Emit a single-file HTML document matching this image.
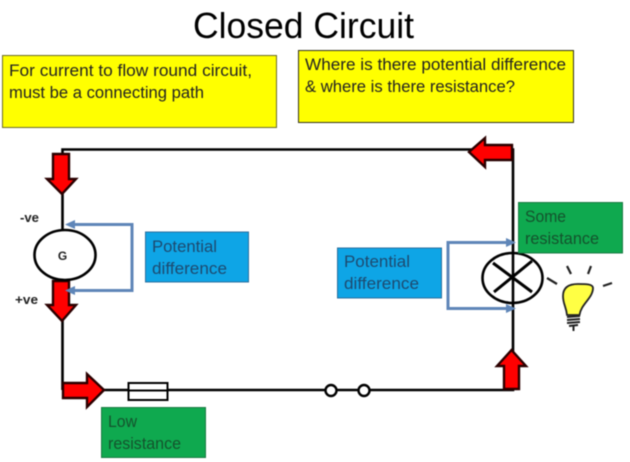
<!DOCTYPE html>
<html>
<head>
<meta charset="utf-8">
<style>
html,body{margin:0;padding:0;background:#fff;width:630px;height:462px;overflow:hidden}
svg{display:block;filter:blur(.45px)}
text{font-family:"Liberation Sans",sans-serif}
</style>
</head>
<body>
<svg width="630" height="462" viewBox="0 0 630 462" xmlns="http://www.w3.org/2000/svg">
<rect width="630" height="462" fill="#fff"/>
<text x="193" y="38" font-size="36" textLength="221" lengthAdjust="spacingAndGlyphs" fill="#000">Closed Circuit</text>

<rect x="2.500" y="55.500" width="274" height="72" fill="#ffff00" stroke="#6b6b2a" stroke-width="1"/>
<text x="9" y="76" font-size="16.500" textLength="243" lengthAdjust="spacingAndGlyphs" fill="#222">For current to flow round circuit,</text>
<text x="9" y="98" font-size="16.500" textLength="195" lengthAdjust="spacingAndGlyphs" fill="#222">must be a connecting path</text>

<rect x="298.500" y="50.500" width="275" height="72" fill="#ffff00" stroke="#33331a" stroke-width="1"/>
<text x="305" y="70" font-size="16.500" textLength="261" lengthAdjust="spacingAndGlyphs" fill="#222">Where is there potential difference</text>
<text x="305" y="92" font-size="16.500" textLength="210" lengthAdjust="spacingAndGlyphs" fill="#222">&amp; where is there resistance?</text>

<!-- wires -->
<path d="M62.500 390V149.500H513V390H62.500" fill="none" stroke="#000" stroke-width="2.600"/>

<!-- red arrows -->
<g fill="#ff0000" stroke="#2a0000" stroke-width="2.400" stroke-linejoin="miter">
<polygon points="53,154 69,154 69,179 76,179 62,194 47,179 53,179"/>
<polygon points="53,281 69,281 69,305 76,305 62,321 47,305 53,305"/>
<polygon points="63,383 87,383 87,374 104,390 87,407 87,398 63,398"/>
<polygon points="512,145 485,145 485,138 469,152 485,167 485,160 512,160"/>
<polygon points="504,389 519,389 519,366 526,366 511.500,350 497,366 504,366"/>
</g>

<!-- generator -->
<ellipse cx="65" cy="255" rx="30.500" ry="25" fill="#fff" stroke="#000" stroke-width="2.600"/>
<text x="62.500" y="260" font-size="12" font-weight="bold" text-anchor="middle" fill="#222">G</text>
<text x="20" y="222" font-size="13" font-weight="bold" textLength="19" lengthAdjust="spacingAndGlyphs" fill="#222">-ve</text>
<text x="15" y="304" font-size="13" font-weight="bold" textLength="23" lengthAdjust="spacingAndGlyphs" fill="#222">+ve</text>

<!-- left bracket -->
<path d="M73 224.500H132V290.500H73" fill="none" stroke="#5f86b8" stroke-width="3"/>
<polygon points="65,224.500 75,220 75,229" fill="#5f86b8"/>
<polygon points="65,290.500 75,286 75,295" fill="#5f86b8"/>

<!-- left blue box -->
<rect x="145.500" y="232" width="103" height="50" fill="#0ea5e6" stroke="#2a6f9e" stroke-width="1"/>
<text x="152" y="252" font-size="16.500" textLength="65" lengthAdjust="spacingAndGlyphs" fill="#1d4a70">Potential</text>
<text x="152" y="274" font-size="16.500" textLength="75" lengthAdjust="spacingAndGlyphs" fill="#1d4a70">difference</text>

<!-- lamp -->
<ellipse cx="512.500" cy="278" rx="30" ry="25" fill="#fff" stroke="#000" stroke-width="2.600"/>
<line x1="513" y1="252" x2="513" y2="304" stroke="#000" stroke-width="2.600"/>
<path d="M493 263L532 292M532 261L494 292" stroke="#000" stroke-width="3" fill="none"/>

<!-- right bracket -->
<path d="M508 242.500H448V308.500H508" fill="none" stroke="#5f86b8" stroke-width="3"/>
<polygon points="516,242.500 506,238 506,247" fill="#5f86b8"/>
<polygon points="516,308.500 506,304 506,313" fill="#5f86b8"/>

<!-- right blue box -->
<rect x="337.500" y="248" width="104" height="50" fill="#0ea5e6" stroke="#2a6f9e" stroke-width="1"/>
<text x="344" y="267" font-size="16.500" textLength="66" lengthAdjust="spacingAndGlyphs" fill="#1d4a70">Potential</text>
<text x="344" y="289" font-size="16.500" textLength="75" lengthAdjust="spacingAndGlyphs" fill="#1d4a70">difference</text>

<!-- green boxes -->
<rect x="518.500" y="202.500" width="104" height="50.500" fill="#0fa94f" stroke="#1b7a43" stroke-width="1"/>
<text x="525" y="222" font-size="16.500" textLength="41" lengthAdjust="spacingAndGlyphs" fill="#14532d">Some</text>
<text x="525" y="244" font-size="16.500" textLength="74" lengthAdjust="spacingAndGlyphs" fill="#14532d">resistance</text>

<rect x="101.500" y="407.500" width="104" height="50" fill="#0fa94f" stroke="#1b7a43" stroke-width="1"/>
<text x="108" y="427" font-size="16.500" textLength="29" lengthAdjust="spacingAndGlyphs" fill="#14532d">Low</text>
<text x="108" y="449" font-size="16.500" textLength="73" lengthAdjust="spacingAndGlyphs" fill="#14532d">resistance</text>

<!-- bulb -->
<g stroke="#222" fill="none">
<path d="M567 266L571 274M591 266L588 274M547 278L557 284M603 286L612 283" stroke-width="2.200"/>
<path d="M567 315C566 306 563 304 563 296C563 287 569 284 578 284C586 284 593 284 593 288C593 298 581 304 579.500 315Z" fill="#ffff44" stroke-width="1.800"/>
<path d="M567 317L580 316M567 320L580 319M567 323L580 322M569 326L578 325" stroke-width="2"/>
<line x1="573.500" y1="326" x2="573.500" y2="331" stroke-width="2"/>
</g>

<!-- fuse and switch -->
<rect x="128.500" y="383" width="39" height="17" fill="#fff" stroke="#000" stroke-width="2"/>
<line x1="128" y1="390.500" x2="168" y2="390.500" stroke="#000" stroke-width="2"/>
<circle cx="331" cy="390.500" r="5.500" fill="#fff" stroke="#000" stroke-width="2.400"/>
<circle cx="364" cy="390.500" r="5.500" fill="#fff" stroke="#000" stroke-width="2.400"/>
</svg>
</body>
</html>
